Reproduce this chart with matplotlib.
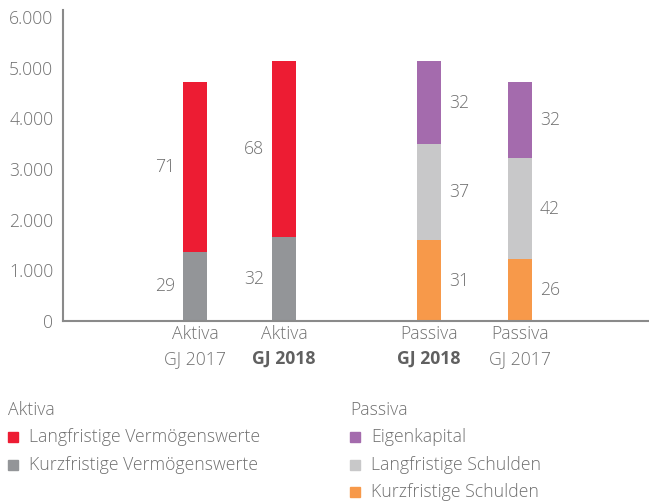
import matplotlib.pyplot as plt
import matplotlib.transforms as mtransforms
from matplotlib.patches import Rectangle

plt.rcParams['font.family'] = ['Open Sans', 'DejaVu Sans']
plt.rcParams['font.weight'] = 'light'
FS = 12.7

# Daten (Mio. EUR, aus der Grafik geschaetzt) und Anteile in %
groups = ['Aktiva', 'Aktiva', 'Passiva', 'Passiva']
years = ['GJ 2017', 'GJ 2018', 'GJ 2018', 'GJ 2017']
bold_year = [False, True, True, False]
positions = [0, 1, 2.63, 3.65]

aktiva_kurz = [1370, 1650]
aktiva_lang = [3340, 3490]
aktiva_kurz_pct = [29, 32]
aktiva_lang_pct = [71, 68]

passiva_kurz = [1590, 1230]
passiva_lang = [1900, 1980]
passiva_eigen = [1640, 1500]
passiva_kurz_pct = [31, 26]
passiva_lang_pct = [37, 42]
passiva_eigen_pct = [32, 32]

yticks = [0, 1000, 2000, 3000, 4000, 5000, 6000]
ytick_labels = ['0', '1.000', '2.000', '3.000', '4.000', '5.000', '6.000']

c_red = '#ED1C33'
c_gray = '#939598'
c_purple = '#A46BAD'
c_lgray = '#C8C8C9'
c_orange = '#F7994A'
txt = '#707070'
axc = '#8a8a8a'

fig = plt.figure(figsize=(6.49, 5.01), dpi=100)
ax = fig.add_axes([63 / 649, 180 / 501, 585 / 649, 311 / 501])

w = 0.27
xa = positions[:2]
xp = positions[2:]

ax.bar(xa, aktiva_kurz, w, color=c_gray)
ax.bar(xa, aktiva_lang, w, bottom=aktiva_kurz, color=c_red)

pb2 = [a + b for a, b in zip(passiva_kurz, passiva_lang)]
ax.bar(xp, passiva_kurz, w, color=c_orange)
ax.bar(xp, passiva_lang, w, bottom=passiva_kurz, color=c_lgray)
ax.bar(xp, passiva_eigen, w, bottom=pb2, color=c_purple)

# Prozentbeschriftungen
for i, x in enumerate(xa):
    ax.text(x - w / 2 - 0.09, aktiva_kurz[i] / 2, str(aktiva_kurz_pct[i]),
            ha='right', va='center', fontsize=FS, color=txt)
    ax.text(x - w / 2 - 0.09, aktiva_kurz[i] + aktiva_lang[i] / 2, str(aktiva_lang_pct[i]),
            ha='right', va='center', fontsize=FS, color=txt)
for i, x in enumerate(xp):
    ax.text(x + w / 2 + 0.09, passiva_kurz[i] / 2, str(passiva_kurz_pct[i]),
            ha='left', va='center', fontsize=FS, color=txt)
    ax.text(x + w / 2 + 0.09, passiva_kurz[i] + passiva_lang[i] / 2, str(passiva_lang_pct[i]),
            ha='left', va='center', fontsize=FS, color=txt)
    ax.text(x + w / 2 + 0.09, pb2[i] + passiva_eigen[i] / 2, str(passiva_eigen_pct[i]),
            ha='left', va='center', fontsize=FS, color=txt)

ax.set_xlim(-1.483, 5.09)
ax.set_ylim(0, 6138)
ax.set_yticks(yticks)
ax.set_yticklabels(ytick_labels, fontsize=FS, color=txt)
ax.set_xticks([])
ax.tick_params(axis='y', length=0, pad=7)
for s in ['top', 'right']:
    ax.spines[s].set_visible(False)
for s in ['left', 'bottom']:
    ax.spines[s].set_color(axc)
    ax.spines[s].set_linewidth(1.5)

# Kategorienbeschriftung
trans = mtransforms.blended_transform_factory(ax.transData, fig.transFigure)
for x, g, y, b in zip(positions, groups, years, bold_year):
    ax.text(x, 1 - 334 / 501, g, transform=trans, ha='center', va='center',
            fontsize=FS, color=txt)
    ax.text(x, 1 - 359 / 501, y, transform=trans, ha='center', va='center',
            fontsize=FS, color='#606060' if b else txt,
            fontweight='bold' if b else 'light')

# Legende
def leg_item(x, y, color, label):
    fig.patches.append(Rectangle((x / 649, 1 - (y + 5) / 501), 10 / 649, 10 / 501,
                                 transform=fig.transFigure, color=color))
    fig.text((x + 21) / 649, 1 - y / 501, label, ha='left', va='center',
             fontsize=FS, color=txt)

fig.text(8 / 649, 1 - 410 / 501, 'Aktiva', ha='left', va='center', fontsize=FS, color=txt)
leg_item(8, 437, c_red, 'Langfristige Vermögenswerte')
leg_item(8, 465, c_gray, 'Kurzfristige Vermögenswerte')
fig.text(350 / 649, 1 - 410 / 501, 'Passiva', ha='left', va='center', fontsize=FS, color=txt)
leg_item(350, 437, c_purple, 'Eigenkapital')
leg_item(350, 465, c_lgray, 'Langfristige Schulden')
leg_item(350, 492, c_orange, 'Kurzfristige Schulden')

fig.savefig('out.png', dpi=100)
